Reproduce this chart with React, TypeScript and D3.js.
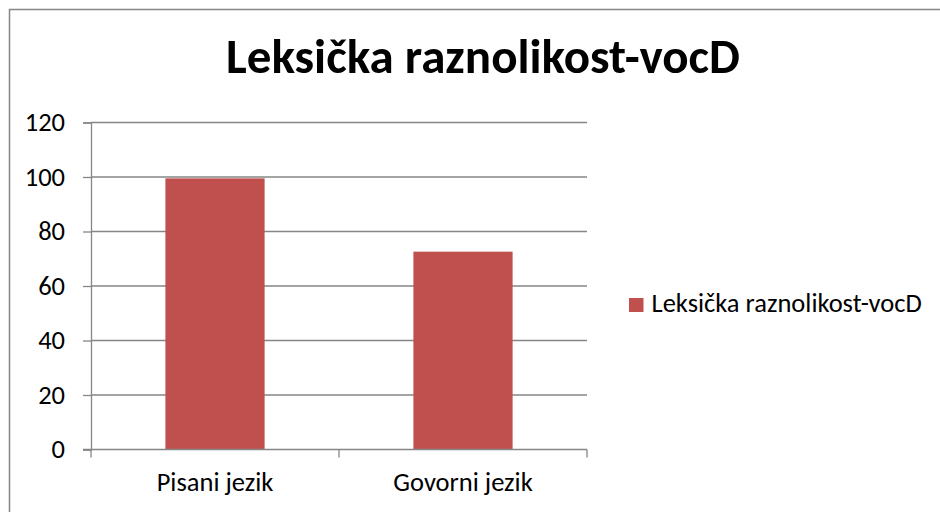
import React, { useEffect, useRef } from 'react';
import * as d3 from 'd3';

const categories = ['Pisani jezik', 'Govorni jezik'];
const values = [99.5, 72.6];
const yTicks = [0, 20, 40, 60, 80, 100, 120];
const seriesName = 'Leksička raznolikost-vocD';
const title = 'Leksička raznolikost-vocD';

const FONT = 'Carlito, Calibri, Lato, sans-serif';

function App() {
  const ref = useRef<SVGSVGElement>(null);

  useEffect(() => {
    document.body.style.margin = '0';
    document.body.style.overflow = 'hidden';

    const svg = d3.select(ref.current);
    svg.selectAll('*').remove();

    const width = 940, height = 512;
    const plot = { left: 91, right: 587, top: 122.5, bottom: 449.5 };
    const grey = '#868686';
    const barColor = '#C0504D';
    const labelSize = 26.5;

    svg.append('rect')
      .attr('width', width).attr('height', height).attr('fill', '#fff');

    // outer chart border: only top and left edges are inside the picture
    svg.append('path')
      .attr('d', `M9.5,${height}V9.5H${width}`)
      .attr('fill', 'none').attr('stroke', grey).attr('stroke-width', 1.5);

    svg.append('text')
      .attr('x', 483).attr('y', 73)
      .attr('text-anchor', 'middle')
      .attr('font-family', FONT).attr('font-weight', 'bold')
      .attr('font-size', 49)
      .text(title);

    const x = d3.scaleBand()
      .domain(categories)
      .range([plot.left, plot.right]);
    const y = d3.scaleLinear()
      .domain([0, 120])
      .range([plot.bottom, plot.top]);

    // gridlines
    svg.append('g').selectAll('line')
      .data(yTicks.filter(t => t > 0))
      .enter().append('line')
      .attr('x1', plot.left).attr('x2', plot.right)
      .attr('y1', d => y(d)).attr('y2', d => y(d))
      .attr('stroke', grey).attr('stroke-width', 1.3);

    // bars
    const barW = x.bandwidth() * 0.4;
    svg.append('g').selectAll('rect')
      .data(values)
      .enter().append('rect')
      .attr('x', (d, i) => x(categories[i])! + (x.bandwidth() - barW) / 2)
      .attr('width', barW)
      .attr('y', d => y(d))
      .attr('height', d => plot.bottom - y(d))
      .attr('fill', barColor);

    // y axis
    const yAxis = d3.axisLeft(y).tickValues(yTicks).tickSize(8).tickPadding(18);
    const gy = svg.append('g')
      .attr('transform', `translate(${plot.left},0)`)
      .call(yAxis);
    gy.attr('font-family', FONT).attr('font-size', labelSize);
    gy.select('.domain').attr('stroke', grey).attr('stroke-width', 1.3);
    gy.selectAll('.tick line').attr('stroke', grey).attr('stroke-width', 1.3);
    gy.selectAll('.tick text').attr('fill', '#000');

    // x axis
    const xAxis = d3.axisBottom(x).tickSize(0).tickPadding(23);
    const gx = svg.append('g')
      .attr('transform', `translate(0,${plot.bottom})`)
      .call(xAxis);
    gx.attr('font-family', FONT).attr('font-size', labelSize);
    gx.select('.domain').attr('stroke', grey).attr('stroke-width', 1.3)
      .attr('d', `M${plot.left - 8},0H${plot.right}`);
    gx.selectAll('.tick text').attr('fill', '#000');
    // category boundary ticks
    const bounds = [plot.left, ...categories.map(c => x(c)! + x.bandwidth())];
    gx.append('g').selectAll('line')
      .data(bounds)
      .enter().append('line')
      .attr('x1', d => d).attr('x2', d => d)
      .attr('y1', 0).attr('y2', 8)
      .attr('stroke', grey).attr('stroke-width', 1.3);

    // legend
    const lg = svg.append('g').attr('transform', 'translate(629,298)');
    lg.append('rect')
      .attr('width', 14.5).attr('height', 14).attr('fill', barColor);
    lg.append('text')
      .attr('x', 22.5).attr('y', 14)
      .attr('font-family', FONT).attr('font-size', labelSize)
      .text(seriesName);
  }, []);

  return (
    <svg ref={ref} width={940} height={512}
      style={{ position: 'absolute', left: 0, top: 0, display: 'block' }} />
  );
}

export default App;
